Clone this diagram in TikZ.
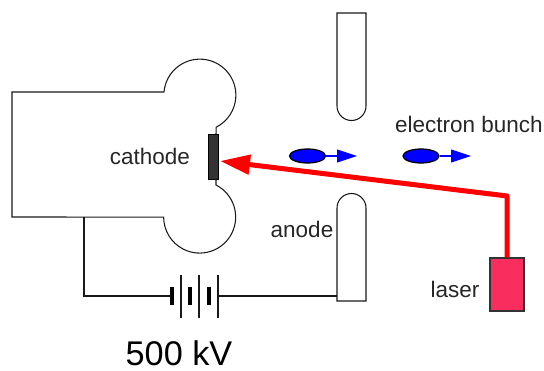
\documentclass[tikz,border=0pt]{standalone}
\usepackage{fontspec}
\setmainfont{Liberation Sans}
\usetikzlibrary{calc,positioning}
\usetikzlibrary{shapes.geometric,arrows.meta}
\definecolor{laserred}{RGB}{250,45,95}
\tikzset{
  wire/.style={line width=0.6pt,draw=black!90},
  lbl/.style={inner sep=0pt,text=black!85,font=\fontsize{12.8pt}{14pt}\selectfont},
  bunch/.style={ellipse,draw=black,fill=blue,line width=0.7pt,minimum width=0.72cm,minimum height=0.28cm,inner sep=0pt},
  thinplate/.style={line width=0.6pt,draw=black!90},
  thickplate/.style={line width=2.2pt,draw=black},
}
\begin{document}
\begin{tikzpicture}[x=0.02cm,y=-0.02cm]
\useasboundingbox(0,0)rectangle(544,371);
\node[draw=black,fill=black!80,line width=0.5pt,minimum width=0.2cm,minimum height=0.9cm,inner sep=0pt](plate)at(213,156.5){};
\node[draw=black!80,fill=laserred,line width=0.6pt,minimum width=0.68cm,minimum height=1.06cm,inner sep=0pt](laser)at(507,284.5){};
% cathode
\draw[wire](216,179)--(216,185)arc(-63:180:36)--(12,217)--(12,92)--(164,92)arc(-175:63:36)--(216,134);
% anode
\draw[wire](337,13)--(366,13)--(366,106)arc(0:180:14.5)--cycle;
\draw[wire](337,301)--(366,301)--(366,208)arc(0:-180:14.5)--cycle;
% battery
\coordinate(w)at(84,217);
\coordinate(wb)at(84,296);
\coordinate(bl)at(172,296);
\coordinate(br)at(218,296);
\coordinate(an)at(337,296);
\draw[wire](w)--(wb)--(bl);
\draw[wire](br)--(an);
\foreach \x in {172,190,209}
  \draw[thickplate](\x,287)--(\x,305);
\foreach \x in {181,199,218}
  \draw[thinplate](\x,275)--(\x,318);
% bunches
\node[bunch](b1)at(307.5,156){};
\node[bunch](b2)at(421,156){};
\coordinate(h1)at(357,156);
\coordinate(h2)at(471,156);
\draw[-{Triangle[length=0.4cm,width=0.26cm]},blue,line width=0.6pt](b1)--(h1);
\draw[-{Triangle[length=0.4cm,width=0.26cm]},blue,line width=0.6pt](b2)--(h2);
% laser beam
\coordinate(bend)at(507,196);
\coordinate(tip)at(220,161);
\draw[-{Triangle[length=0.6cm,width=0.38cm]},red,line width=0.1cm,line join=round](laser.north)--(bend)--(tip);
% labels
\node[lbl](cathode)at(150,156){cathode};
\node[lbl](anode)at(302,229){anode};
\node[lbl](electron)at(469,124){electron bunch};
\node[lbl](laserl)at(455,289){laser};
\node[inner sep=0pt,font=\fontsize{19.5pt}{21pt}\selectfont](volt)at(179,353.5){500 kV};
\end{tikzpicture}
\end{document}
